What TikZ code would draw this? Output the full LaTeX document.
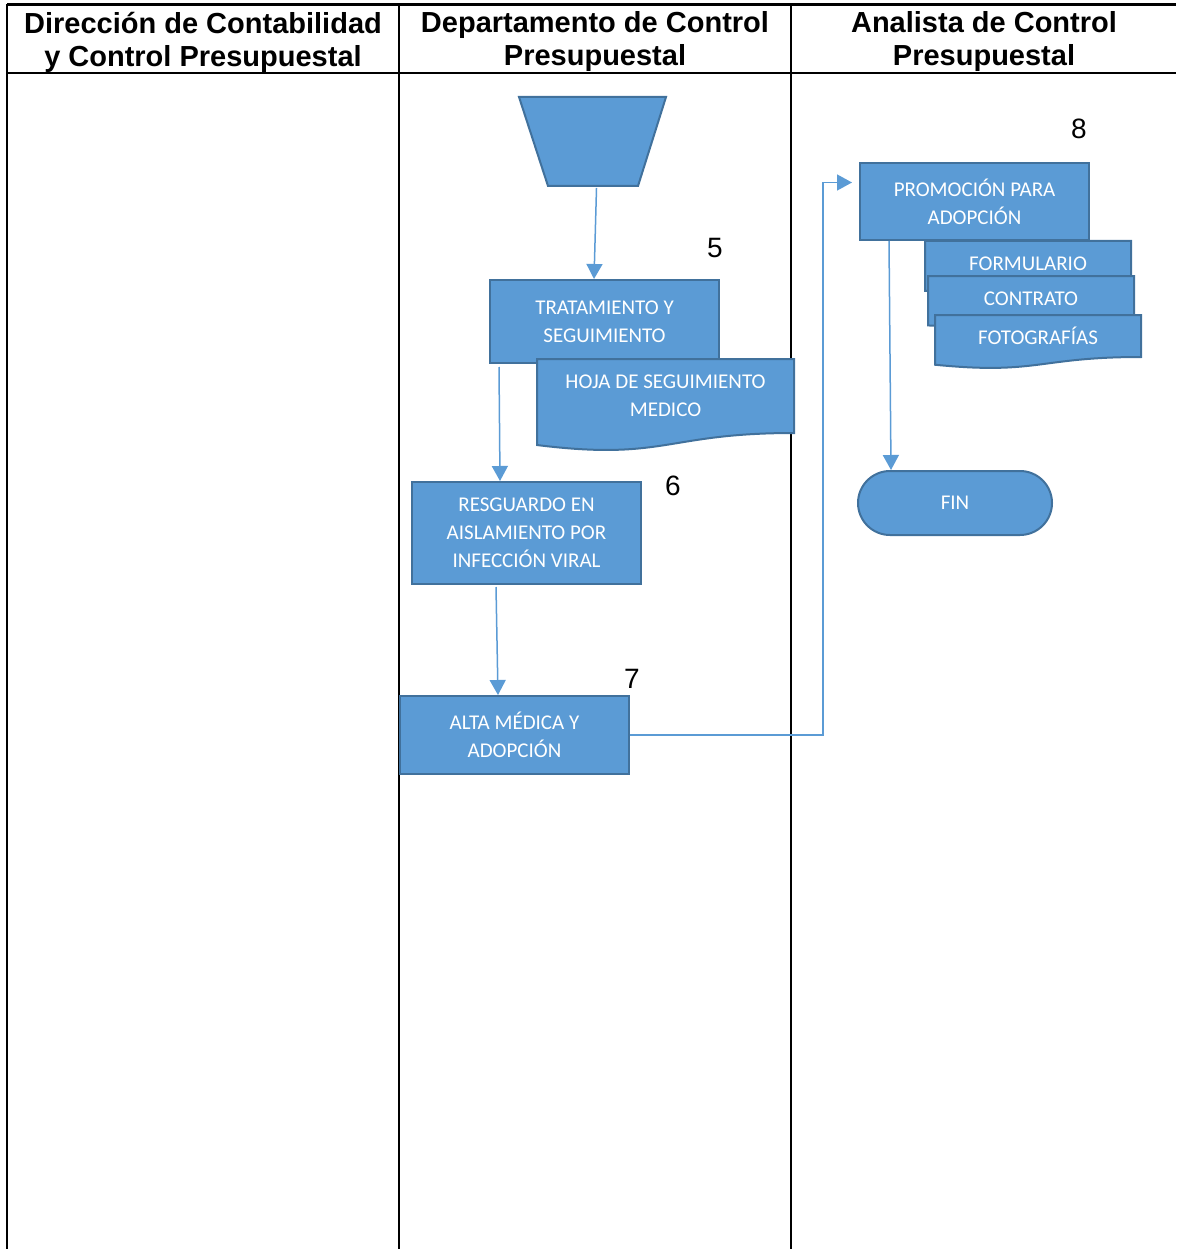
\documentclass[tikz,border=0pt]{standalone}
\usepackage{fontspec}
\setmainfont{Liberation Sans}
\newfontfamily\boxfont{Carlito}
\usetikzlibrary{arrows.meta,calc,positioning}

\definecolor{boxfill}{HTML}{5B9BD5}
\definecolor{boxline}{HTML}{41719C}

\tikzset{
  proc/.style={rectangle, fill=boxfill, draw=boxline, line width=2pt,
               text=white, font=\boxfont\fontsize{21}{28}\selectfont,
               align=center, inner sep=0pt},
  docarea/.style={rectangle, inner sep=0pt, outer sep=0pt},
  doctxt/.style={text=white, font=\boxfont\fontsize{21}{28}\selectfont,
                 align=center, inner sep=0pt},
  shapeline/.style={fill=boxfill, draw=boxline, line width=2pt},
  flow/.style={draw=boxfill, line width=1.5pt,
               -{Triangle[width=16pt,length=15pt]}},
  lane/.style={line width=2pt},
  head/.style={font=\bfseries\fontsize{29}{33}\selectfont, align=center},
  stepnum/.style={font=\fontsize{28}{30}\selectfont, inner sep=0pt}
}

% document shape with a wavy bottom around a named area
\newcommand{\docshape}[2]{%
  \filldraw[shapeline]
    (#1.north west) -- (#1.north east) -- (#1.south east)
    .. controls (#1.south) and ($(#1.south)+(0,#2)$)
    .. ($(#1.south west)+(0,0.43*#2)$) -- cycle;}

\begin{document}
\begin{tikzpicture}[x=1pt, y=-1pt]
  \useasboundingbox (0,0) rectangle (1176,1249);

  % lanes
  \draw[lane, line width=3pt] (7,5) -- (1176,5);
  \draw[lane] (7,73) -- (1176,73);
  \draw[lane] (7,4) -- (7,1249);
  \draw[lane] (399,4) -- (399,1249);
  \draw[lane] (791,4) -- (791,1249);

  \node[head] (h1) at (203,42) {Dirección de Contabilidad\\y Control Presupuestal};
  \node[head] (h2) at (595,42) {Departamento de Control\\Presupuestal};
  \node[head] (h3) at (984,42) {Analista de Control\\Presupuestal};

  % middle lane
  \node[docarea, minimum width=147pt, minimum height=89pt]
        (inicio) at (592.5,141.5) {};
  \filldraw[shapeline] (inicio.north west) -- (inicio.north east)
    -- ($(inicio.south east)+(-28,0)$) -- ($(inicio.south west)+(29,0)$) -- cycle;

  \node[proc, minimum width=229pt, minimum height=83pt]
        (trat) at (604.5,321.5) {TRATAMIENTO Y\\SEGUIMIENTO};
  \node[stepnum] (n5) at ($(trat.north east)+(-5,-31)$) {5};

  \node[docarea, minimum width=257pt, minimum height=74pt]
        (hoja) at (665.5,396) {};
  \docshape{hoja}{28}
  \node[doctxt] (hojatxt) at (hoja.center) {HOJA DE SEGUIMIENTO\\MEDICO};

  \node[proc, minimum width=229pt, minimum height=102pt]
        (resg) at (526.5,533) {RESGUARDO EN\\AISLAMIENTO POR\\INFECCIÓN VIRAL};
  \node[stepnum] (n6) at ($(resg.north east)+(31,5)$) {6};

  \node[proc, minimum width=229pt, minimum height=78pt]
        (alta) at (514.5,735) {ALTA MÉDICA Y\\ADOPCIÓN};
  \node[stepnum] (n7) at ($(alta.north east)+(2,-16)$) {7};

  % right lane
  \node[proc, minimum width=229pt, minimum height=77pt]
        (promo) at (974.5,201.5) {PROMOCIÓN PARA\\ADOPCIÓN};
  \node[stepnum] (n8) at ($(promo.north east)+(-11,-33)$) {8};

  \node[docarea, minimum width=206pt, minimum height=46pt]
        (form) at (1028,264) {};
  \docshape{form}{9}
  \node[doctxt] (formtxt) at (form.center) {FORMULARIO};

  \node[docarea, minimum width=206pt, minimum height=46pt]
        (contr) at (1031,299) {};
  \docshape{contr}{8}
  \node[doctxt] (contrtxt) at (contr.center) {CONTRATO};

  \node[docarea, minimum width=206pt, minimum height=42pt]
        (foto) at (1038,336) {};
  \docshape{foto}{18}
  \node[doctxt] (fototxt) at (foto.center) {FOTOGRAFÍAS};

  \node[proc, rounded corners=32pt, minimum width=194pt, minimum height=64pt]
        (fin) at (955,503) {FIN};

  % flow
  \draw[flow] ($(inicio.south)+(4,2)$) -- ($(trat.north west)+(105,0)$);
  \draw[flow] ($(trat.south west)+(10,3)$) -- ($(resg.north west)+(89,0)$);
  \draw[flow] ($(resg.south west)+(85,2)$) -- ($(alta.north west)+(99,0)$);
  \draw[flow] (alta.east) -- ++(193,0) |- ($(promo.west)+(-7,-19)$);
  \draw[flow] ($(promo.south west)+(30,0)$) -- ($(fin.north west)+(34,0)$);
\end{tikzpicture}
\end{document}
